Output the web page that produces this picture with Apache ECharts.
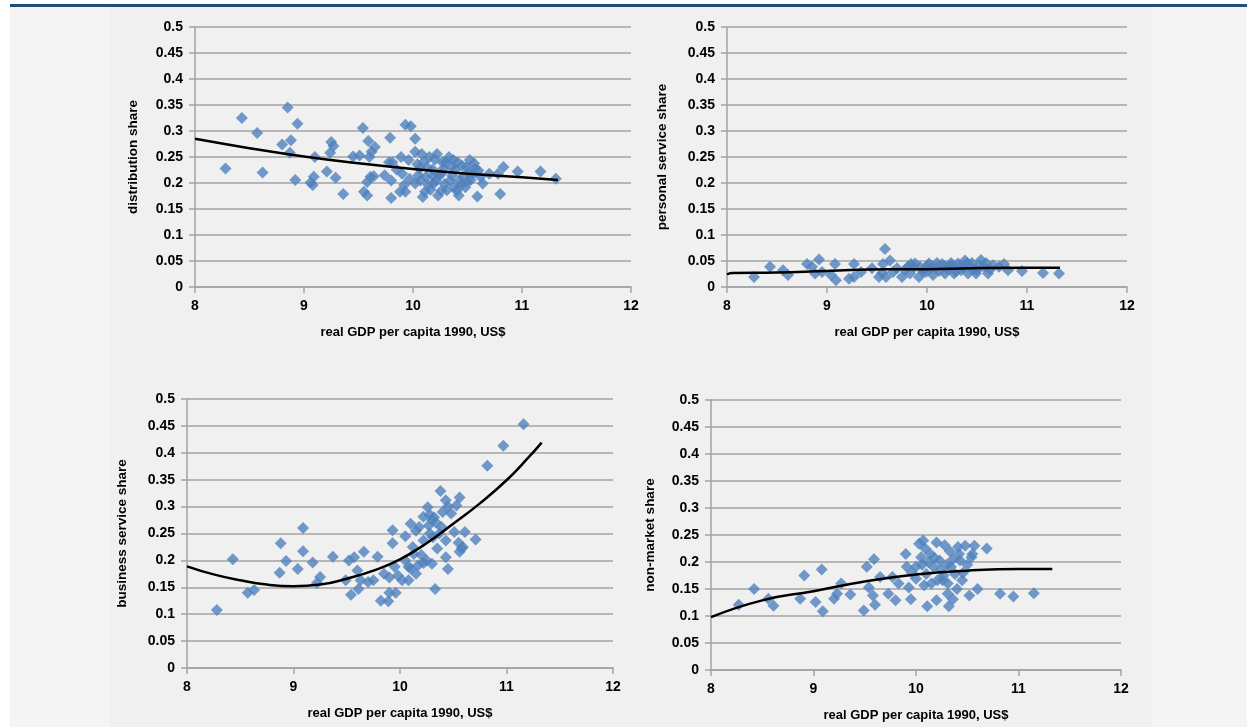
<!DOCTYPE html>
<html>
<head>
<meta charset="utf-8">
<script src="https://cdn.jsdelivr.net/npm/echarts@6/dist/echarts.min.js"></script>
<style>
  html, body { margin: 0; padding: 0; background: #fff; }
  .frame {
    position: absolute; left: 10px; top: 4px; width: 1237px; height: 723px;
    background: #f4f4f4; border-top: 3px solid #1f4e79; box-sizing: border-box;
  }
  .panel {
    position: absolute; left: 110px; top: 7px; width: 1042px; height: 720px;
    background: #f0f0f0;
  }
  #chart { position: absolute; left: 0; top: 0; width: 1247px; height: 727px; }
</style>
</head>
<body>
<div class="frame"></div>
<div class="panel"></div>
<div id="chart"></div>
<script>
// tick labels
const xTicks = [8, 9, 10, 11, 12]
const yTicks = ['0', '0.05', '0.1', '0.15', '0.2', '0.25', '0.3', '0.35', '0.4', '0.45', '0.5']

const xName = 'real GDP per capita 1990, US$'
const yNames = ['distribution share', 'personal service share', 'business service share', 'non-market share']

// distribution share vs log GDP
const distPts = [
  [8.28, 0.228], [8.43, 0.325], [8.57, 0.296], [8.62, 0.220], [8.85, 0.345], [8.80, 0.274],
  [8.88, 0.282], [8.94, 0.314], [8.87, 0.258], [8.92, 0.206], [9.06, 0.201], [9.09, 0.212],
  [9.08, 0.196], [9.10, 0.250], [9.21, 0.222], [9.25, 0.279], [9.27, 0.271], [9.24, 0.258],
  [9.29, 0.210], [9.36, 0.179], [9.45, 0.251], [9.51, 0.253], [9.54, 0.306], [9.55, 0.183],
  [9.58, 0.176], [9.58, 0.202], [9.59, 0.281], [9.62, 0.260], [9.60, 0.250], [9.65, 0.269],
  [9.64, 0.213], [9.61, 0.212], [9.74, 0.215], [9.79, 0.287], [9.78, 0.240], [9.81, 0.240],
  [9.80, 0.171], [9.80, 0.205], [9.89, 0.250], [9.90, 0.218], [9.88, 0.183], [9.93, 0.312],
  [9.98, 0.309], [10.02, 0.285], [9.93, 0.183], [9.96, 0.244], [10.02, 0.260], [10.02, 0.199],
  [10.06, 0.228], [10.09, 0.173], [10.08, 0.256], [10.12, 0.212], [10.15, 0.250], [10.19, 0.199],
  [10.22, 0.256], [10.23, 0.176], [10.26, 0.218], [10.30, 0.240], [10.31, 0.186], [10.35, 0.231],
  [10.38, 0.192], [10.41, 0.240], [10.42, 0.176], [10.46, 0.212], [10.49, 0.231], [10.52, 0.244],
  [10.55, 0.218], [10.60, 0.224], [10.59, 0.174], [10.64, 0.199], [10.70, 0.218], [10.78, 0.218],
  [10.83, 0.231], [10.80, 0.179], [10.96, 0.222], [11.17, 0.222], [11.31, 0.208],
  [10.04, 0.236], [10.07, 0.205], [10.10, 0.241], [10.13, 0.230], [10.16, 0.187], [10.18, 0.226],
  [10.20, 0.245], [10.21, 0.205], [10.24, 0.215], [10.27, 0.240], [10.29, 0.198], [10.33, 0.250],
  [10.36, 0.214], [10.39, 0.226], [10.43, 0.205], [10.45, 0.233], [10.48, 0.192], [10.51, 0.220],
  [10.53, 0.206], [10.57, 0.228], [9.97, 0.208], [9.92, 0.196], [9.85, 0.226], [10.11, 0.183],
  [10.26, 0.185], [10.40, 0.185], [10.14, 0.196], [10.18, 0.214], [10.28, 0.228], [10.34, 0.205],
  [10.37, 0.244], [10.44, 0.196], [10.50, 0.203], [10.56, 0.238], [10.62, 0.212], [10.05, 0.215]
]
const distFit = [[8, 0.285], [8.5, 0.267], [9, 0.251], [9.5, 0.238], [10, 0.227], [10.5, 0.218], [11, 0.211], [11.33, 0.206]]

// personal service share
const persPts = [
  [8.27, 0.019], [8.43, 0.039], [8.56, 0.032], [8.61, 0.023], [8.80, 0.044], [8.85, 0.039],
  [8.92, 0.053], [8.88, 0.026], [8.95, 0.029], [9.08, 0.044], [9.09, 0.013], [9.04, 0.023],
  [9.22, 0.016], [9.27, 0.019], [9.27, 0.044], [9.34, 0.029], [9.45, 0.036], [9.52, 0.019],
  [9.58, 0.073], [9.56, 0.044], [9.63, 0.051], [9.59, 0.019], [9.66, 0.029], [9.75, 0.019],
  [9.81, 0.039], [9.83, 0.026], [9.84, 0.044], [9.92, 0.019], [9.93, 0.039], [9.99, 0.029],
  [10.02, 0.045], [10.06, 0.023], [10.09, 0.036], [10.15, 0.044], [10.18, 0.026], [10.22, 0.039],
  [10.27, 0.026], [10.31, 0.045], [10.34, 0.032], [10.38, 0.051], [10.41, 0.026], [10.43, 0.039],
  [10.50, 0.032], [10.54, 0.052], [10.57, 0.039], [10.61, 0.026], [10.66, 0.042], [10.72, 0.039],
  [10.77, 0.044], [10.81, 0.032], [10.95, 0.031], [11.16, 0.027], [11.32, 0.026],
  [9.78, 0.033], [9.87, 0.038], [9.96, 0.030], [10.04, 0.037], [10.12, 0.031], [10.20, 0.035],
  [10.25, 0.041], [10.29, 0.030], [10.36, 0.038], [10.40, 0.046], [10.47, 0.034], [10.52, 0.041],
  [10.59, 0.046], [10.63, 0.033], [9.70, 0.036], [9.55, 0.027], [9.88, 0.045], [10.00, 0.040],
  [10.10, 0.046], [10.17, 0.041], [10.24, 0.046], [10.33, 0.040], [10.45, 0.046], [10.49, 0.026]
]
const persFit = [[8, 0.024], [8.05, 0.027], [8.5, 0.028], [9, 0.031], [9.6, 0.034], [10, 0.034], [10.45, 0.036], [11, 0.037], [11.33, 0.037]]

// business service share
const busPts = [
  [8.28, 0.108], [8.43, 0.202], [8.57, 0.140], [8.63, 0.145], [8.87, 0.177], [8.88, 0.232],
  [8.93, 0.199], [9.04, 0.184], [9.09, 0.260], [9.09, 0.217], [9.18, 0.196], [9.22, 0.158],
  [9.25, 0.169], [9.37, 0.207], [9.49, 0.163], [9.52, 0.200], [9.54, 0.136], [9.57, 0.206],
  [9.61, 0.147], [9.63, 0.163], [9.66, 0.216], [9.60, 0.181], [9.79, 0.207], [9.75, 0.163],
  [9.82, 0.125], [9.89, 0.124], [9.90, 0.140], [9.93, 0.256], [9.93, 0.232], [9.96, 0.140],
  [9.85, 0.175], [9.95, 0.188], [10.02, 0.163], [10.05, 0.245], [10.10, 0.268], [10.08, 0.163],
  [10.13, 0.212], [10.17, 0.191], [10.18, 0.262], [10.22, 0.281], [10.25, 0.200], [10.26, 0.299],
  [10.28, 0.250], [10.30, 0.275], [10.30, 0.194], [10.33, 0.147], [10.35, 0.222], [10.38, 0.329],
  [10.39, 0.262], [10.43, 0.312], [10.43, 0.237], [10.45, 0.184], [10.48, 0.287], [10.51, 0.253],
  [10.53, 0.302], [10.56, 0.317], [10.56, 0.216], [10.59, 0.225], [10.61, 0.253], [10.71, 0.239],
  [10.82, 0.376], [10.97, 0.413], [11.16, 0.453], [10.43, 0.206], [10.31, 0.243], [10.22, 0.237],
  [10.15, 0.175], [10.08, 0.188],
  [10.05, 0.200], [10.12, 0.225], [10.20, 0.210], [10.27, 0.265], [10.32, 0.280], [10.34, 0.270],
  [10.40, 0.290], [10.45, 0.300], [10.37, 0.250], [10.22, 0.195], [10.10, 0.185], [9.98, 0.172],
  [9.90, 0.168], [9.70, 0.160], [10.55, 0.233], [10.58, 0.222], [10.15, 0.255], [10.28, 0.285]
]
const busFit = [[8, 0.189], [8.25, 0.174], [8.5, 0.163], [8.75, 0.155], [9, 0.152], [9.25, 0.155], [9.5, 0.166], [9.75, 0.181], [10, 0.202], [10.25, 0.232], [10.5, 0.268], [10.75, 0.306], [11, 0.349], [11.2, 0.390], [11.33, 0.419]]

// non-market share
const nonMktPts = [
  [8.27, 0.121], [8.42, 0.150], [8.56, 0.132], [8.61, 0.119], [8.87, 0.132], [8.91, 0.175],
  [9.02, 0.126], [9.08, 0.186], [9.09, 0.109], [9.20, 0.132], [9.23, 0.141], [9.27, 0.160],
  [9.36, 0.140], [9.49, 0.110], [9.52, 0.191], [9.59, 0.205], [9.54, 0.153], [9.58, 0.138],
  [9.60, 0.121], [9.65, 0.172], [9.73, 0.141], [9.77, 0.172], [9.80, 0.129], [9.83, 0.160],
  [9.90, 0.215], [9.91, 0.191], [9.93, 0.153], [9.95, 0.131], [10.00, 0.169], [10.03, 0.234],
  [10.07, 0.240], [10.05, 0.209], [10.08, 0.157], [10.11, 0.118], [10.14, 0.215], [10.17, 0.191],
  [10.20, 0.236], [10.20, 0.129], [10.23, 0.203], [10.26, 0.166], [10.28, 0.231], [10.31, 0.141],
  [10.32, 0.118], [10.34, 0.191], [10.36, 0.131], [10.38, 0.178], [10.41, 0.228], [10.43, 0.203],
  [10.45, 0.166], [10.48, 0.230], [10.52, 0.138], [10.54, 0.209], [10.57, 0.230], [10.60, 0.150],
  [10.69, 0.225], [10.82, 0.141], [10.95, 0.136], [11.15, 0.142], [10.21, 0.166], [10.31, 0.160],
  [10.00, 0.191], [10.10, 0.178],
  [10.06, 0.195], [10.12, 0.200], [10.18, 0.208], [10.24, 0.185], [10.30, 0.195], [10.36, 0.205],
  [10.42, 0.215], [10.46, 0.180], [10.50, 0.195], [10.15, 0.160], [10.27, 0.175], [10.40, 0.150],
  [9.96, 0.180], [10.09, 0.225], [10.33, 0.220], [10.55, 0.215]
]
const nonMktFit = [[8, 0.098], [8.5, 0.129], [9, 0.146], [9.5, 0.164], [10, 0.177], [10.5, 0.184], [11, 0.187], [11.33, 0.187]]

const panels = [
  { pts: distPts, fit: distFit, grid: { left: 195, top: 27, width: 436, height: 260 }, nameGap: 55 },
  { pts: persPts, fit: persFit, grid: { left: 727, top: 27, width: 400, height: 260 }, nameGap: 58 },
  { pts: busPts, fit: busFit, grid: { left: 187, top: 399, width: 426, height: 269 }, nameGap: 58 },
  { pts: nonMktPts, fit: nonMktFit, grid: { left: 711, top: 400, width: 410, height: 270 }, nameGap: 54 }
]

const font = "'Liberation Sans', Arial, sans-serif"
const gridColor = '#a3a3a3'

const chart = echarts.init(document.getElementById('chart'))

const option = {
  animation: false,
  grid: panels.map(p => Object.assign({ containLabel: false }, p.grid)),
  xAxis: panels.map((p, i) => ({
    gridIndex: i,
    type: 'value',
    min: xTicks[0],
    max: xTicks[xTicks.length - 1],
    interval: 1,
    name: xName,
    nameLocation: 'middle',
    nameGap: 39,
    nameTextStyle: { color: '#000', fontFamily: font, fontWeight: 'bold', fontSize: 13 },
    axisLine: { lineStyle: { color: gridColor, width: 1.5 } },
    axisTick: { show: true, length: 6, lineStyle: { color: gridColor, width: 1.5 } },
    axisLabel: { color: '#000', fontFamily: font, fontWeight: 'bold', fontSize: 14, margin: 12 },
    splitLine: { show: false }
  })),
  yAxis: panels.map((p, i) => ({
    gridIndex: i,
    type: 'value',
    min: 0,
    max: 0.5,
    interval: 0.05,
    name: yNames[i],
    nameLocation: 'middle',
    nameGap: p.nameGap,
    nameRotate: 90,
    nameTextStyle: { color: '#000', fontFamily: font, fontWeight: 'bold', fontSize: 13.5 },
    axisLine: { show: true, lineStyle: { color: gridColor, width: 1.5 } },
    axisTick: { show: true, length: 6, lineStyle: { color: gridColor, width: 1.5 } },
    axisLabel: {
      color: '#000', fontFamily: font, fontWeight: 'bold', fontSize: 14, margin: 12,
      formatter: v => yTicks[Math.round(v / 0.05)]
    },
    splitLine: { show: true, lineStyle: { color: gridColor, width: 1.5 } }
  })),
  series: []
}

panels.forEach((p, i) => {
  option.series.push({
    type: 'scatter',
    xAxisIndex: i,
    yAxisIndex: i,
    symbol: 'diamond',
    symbolSize: 12,
    itemStyle: { color: '#4f81bd' },
    data: p.pts
  })
  option.series.push({
    type: 'line',
    xAxisIndex: i,
    yAxisIndex: i,
    smooth: true,
    symbol: 'none',
    lineStyle: { color: '#000', width: 2.5 },
    data: p.fit
  })
})

chart.setOption(option)
</script>
</body>
</html>
